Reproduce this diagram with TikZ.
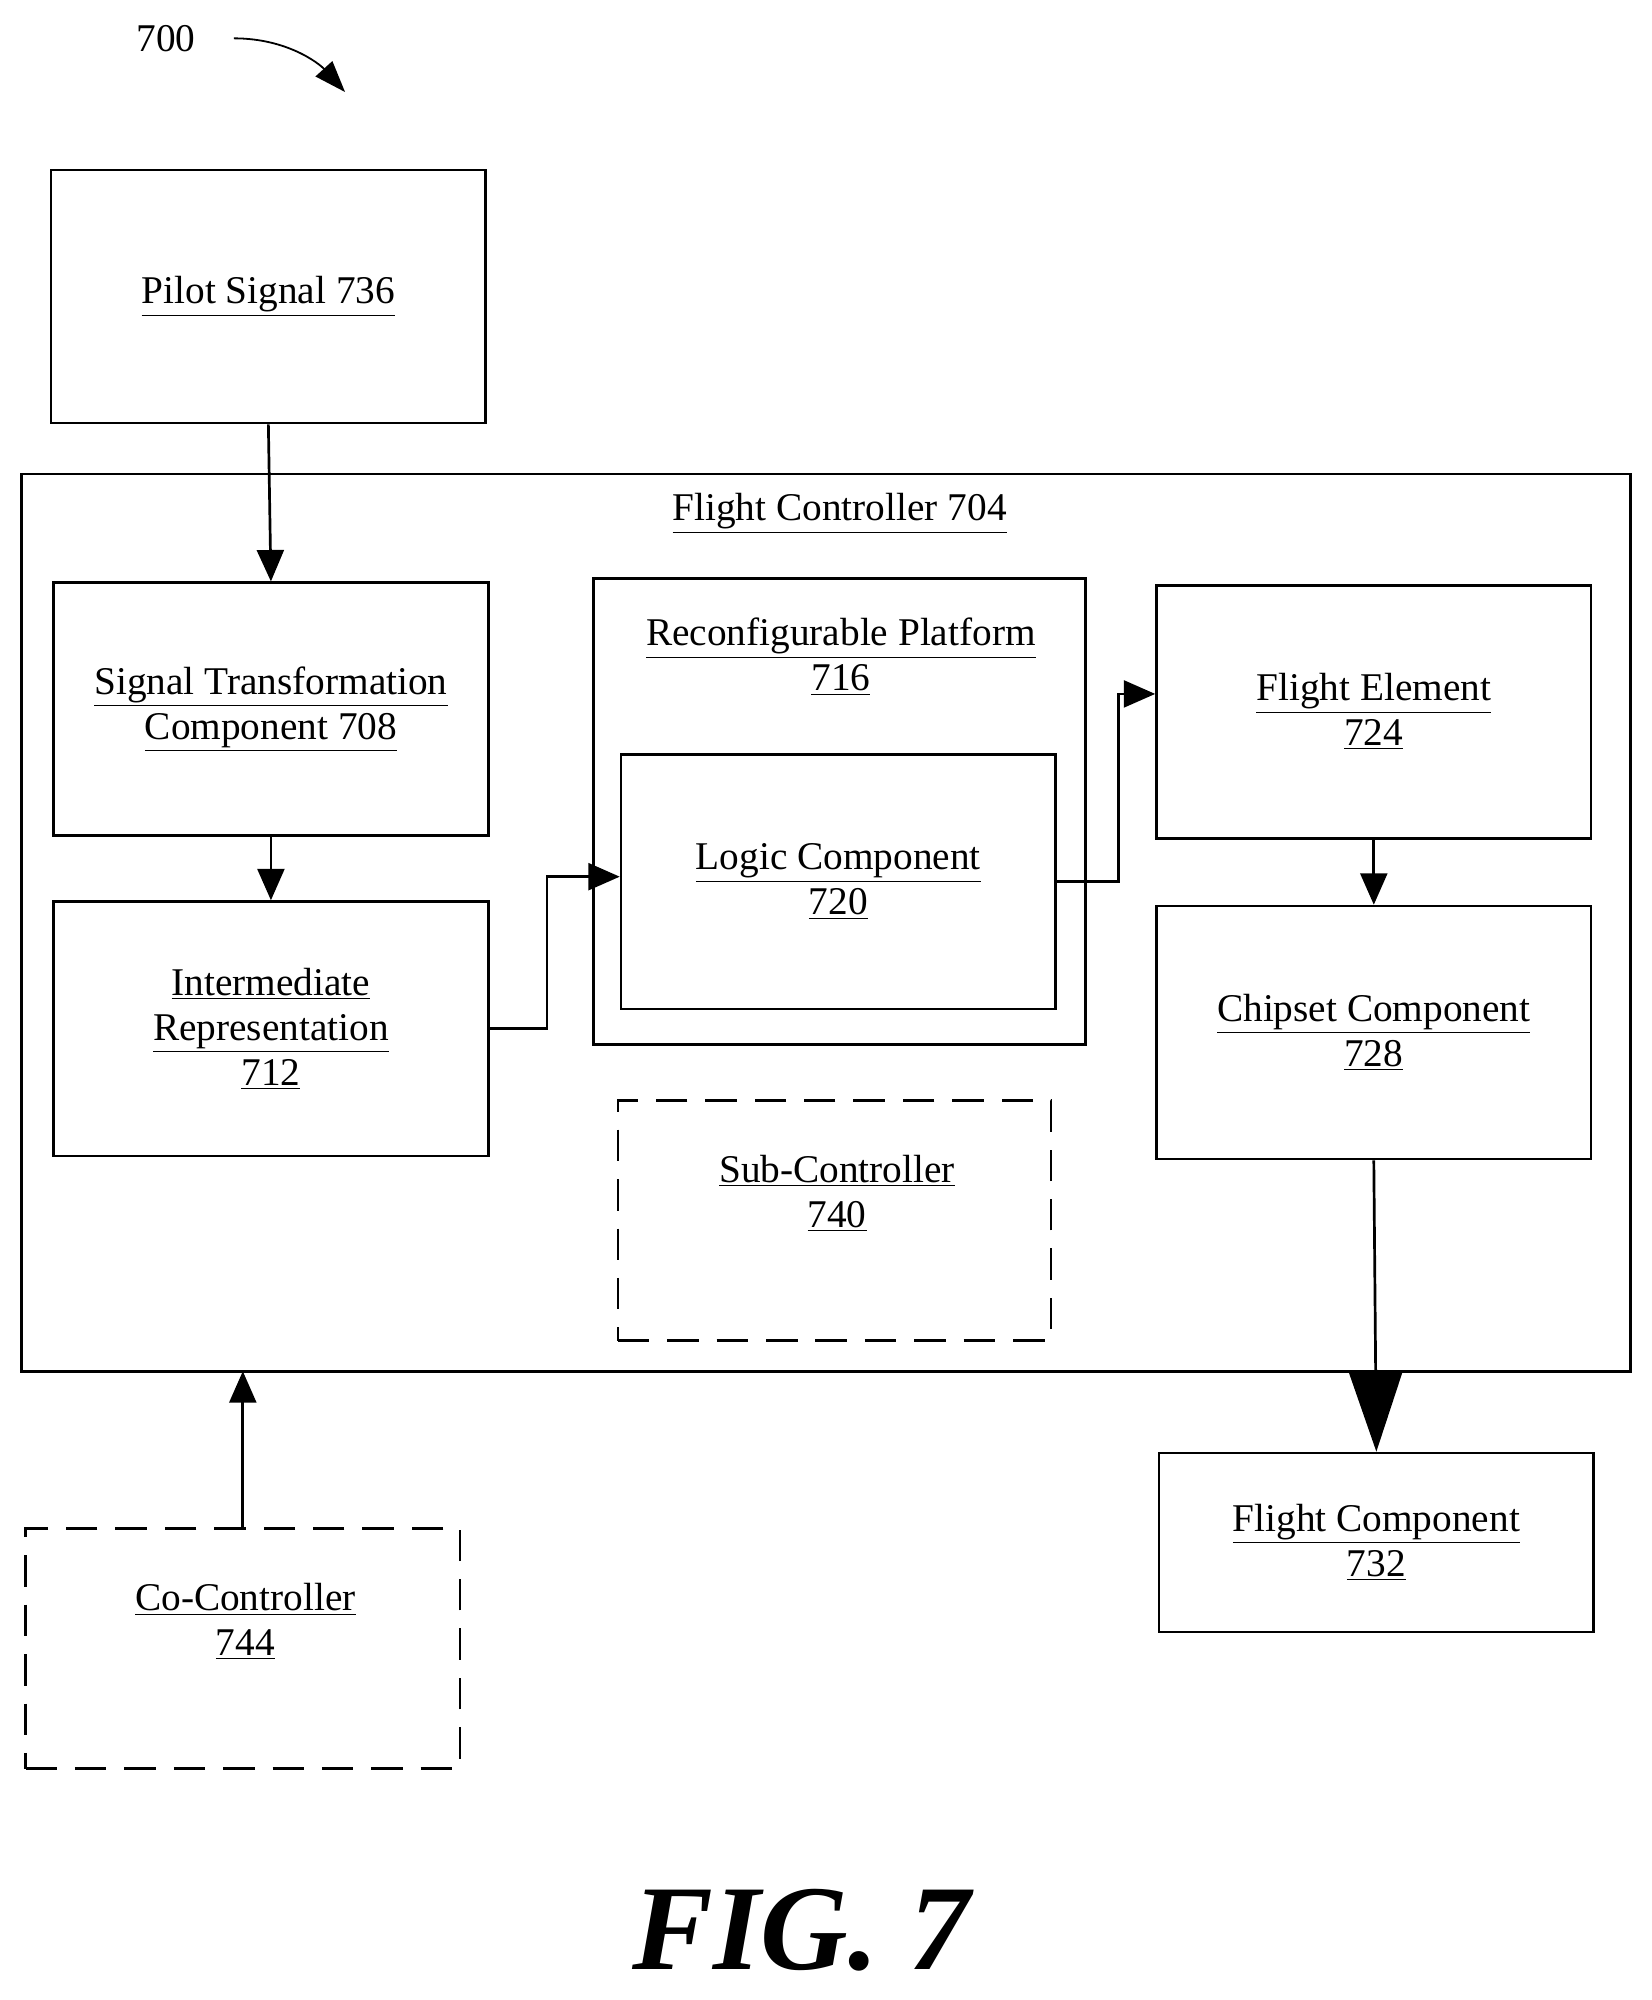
\documentclass[tikz,border=0pt]{standalone}
\usepackage{fontspec}
\setmainfont{Liberation Serif}
\usetikzlibrary{arrows.meta}
\newcommand{\ul}[1]{\underline{#1}}
\begin{document}
\fontsize{17.5pt}{20pt}\selectfont
\begin{tikzpicture}[x=0.02cm,y=-0.02cm,line width=1.2pt,
  box/.style={draw,rectangle,align=center,inner sep=0pt},
  dbox/.style={box,dash pattern=on 14pt off 8pt},
  lbl/.style={align=center},
  flow/.style={-{Triangle[length=14pt,width=12pt]}}]
\useasboundingbox (0,0) rectangle (1292,1565);
% nodes
\node [box,minimum width=340*0.02cm,minimum height=198*0.02cm] (pilot) at (210,232) {\ul{Pilot Signal 736}};
\draw (17,371) rectangle (1276,1073);
\coordinate (fcbot) at (190,1073);
\node [lbl] at (657,402) {\ul{Flight Controller 704}};
\node [box,minimum width=340*0.02cm,minimum height=198*0.02cm] (stc) at (212,555) {\ul{Signal Transformation}\\\ul{Component 708}};
\node [box,minimum width=340*0.02cm,minimum height=199*0.02cm] (ir) at (212,805) {\ul{Intermediate}\\\ul{Representation}\\\ul{712}};
\node [box,minimum width=385*0.02cm,minimum height=365*0.02cm] (rp) at (657,635) {};
\node [lbl] at (658,514) {\ul{Reconfigurable Platform}\\\ul{716}};
\node [box,minimum width=340*0.02cm,minimum height=199*0.02cm] (lc) at (656,690) {\ul{Logic Component}\\\ul{720}};
\node [box,minimum width=340*0.02cm,minimum height=198*0.02cm] (fe) at (1075,557) {\ul{Flight Element}\\\ul{724}};
\node [box,minimum width=340*0.02cm,minimum height=198*0.02cm] (cc) at (1075,808) {\ul{Chipset Component}\\\ul{728}};
\node [dbox,minimum width=339*0.02cm,minimum height=188*0.02cm] (sub) at (653,955) {};
\node [lbl] at (655,934) {\ul{Sub-Controller}\\\ul{740}};
\node [box,minimum width=340*0.02cm,minimum height=140*0.02cm] (fcomp) at (1077,1207) {\ul{Flight Component}\\\ul{732}};
\node [dbox,minimum width=340*0.02cm,minimum height=188*0.02cm] (co) at (190,1290) {};
\node [lbl] at (192,1269) {\ul{Co-Controller}\\\ul{744}};
\node (ref) at (130,30) {700};
\coordinate (refend) at (270,72);
% connectors
\draw [flow] (pilot.south) -- (stc.north);
\draw [flow] (stc.south) -- (ir.north);
\draw [flow] (ir.east) -- (428,805) -- (428,686) -- (lc.west |- 0,686);
\draw [flow] (lc.east |- 0,690) -- (875,690) -- (875,543) -- (fe.west |- 0,543);
\draw [flow] (fe.south) -- (cc.north);
\draw [-{Triangle[length=36pt,width=24pt]}] (cc.south) -- (fcomp.north);
\draw [flow] (co.north) -- (fcbot);
\draw [-{Triangle[length=14pt,width=10pt]},line width=0.8pt] (183,30) .. controls (225,30) and (250,50) .. (refend);
\node [font=\fontsize{54pt}{56pt}\selectfont\bfseries\itshape] (fig) at (627,1510) {FIG. 7};
\end{tikzpicture}
\end{document}
